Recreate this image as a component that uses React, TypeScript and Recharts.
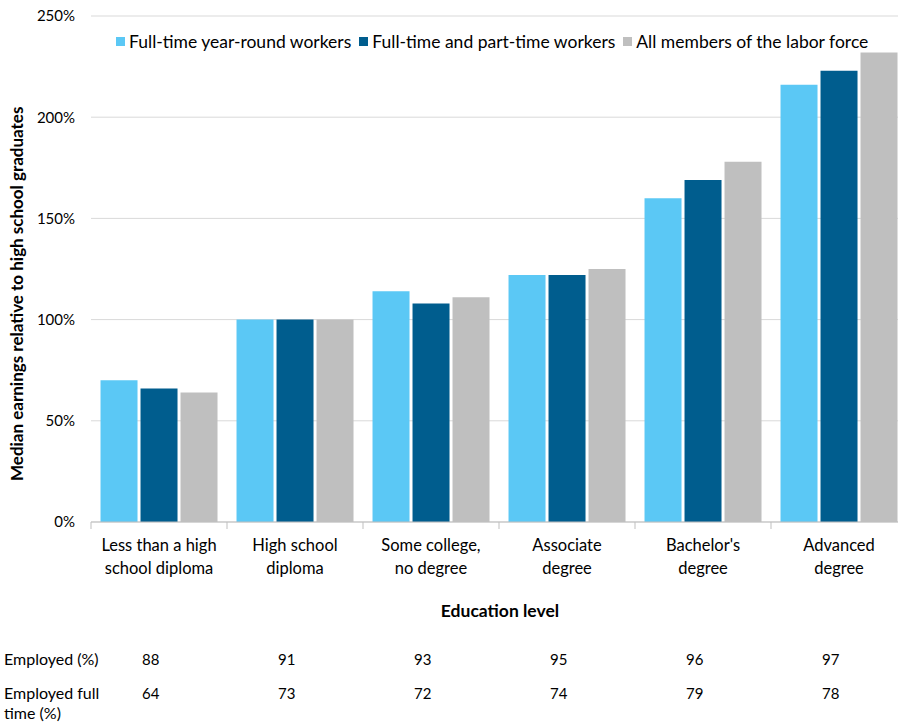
import React from "react";
import { BarChart, Bar, XAxis, YAxis, CartesianGrid } from "recharts";

const categories = [
  "Less than a high school diploma",
  "High school diploma",
  "Some college, no degree",
  "Associate degree",
  "Bachelor's degree",
  "Advanced degree",
];
const categoryLines = [
  ["Less than a high", "school diploma"],
  ["High school", "diploma"],
  ["Some college,", "no degree"],
  ["Associate", "degree"],
  ["Bachelor's", "degree"],
  ["Advanced", "degree"],
];
const fullTimeYearRound = [70, 100, 114, 122, 160, 216];
const fullAndPartTime = [66, 100, 108, 122, 169, 223];
const allLaborForce = [64, 100, 111, 125, 178, 232];
const employed = [88, 91, 93, 95, 96, 97];
const employedFullTime = [64, 73, 72, 74, 79, 78];
const yTicks = [0, 50, 100, 150, 200, 250];

const seriesNames = [
  "Full-time year-round workers",
  "Full-time and part-time workers",
  "All members of the labor force",
];
const COLORS = ["#5BC8F5", "#005D8E", "#BFBFBF"];

const data = categories.map((name, i) => ({
  name,
  a: fullTimeYearRound[i],
  b: fullAndPartTime[i],
  c: allLaborForce[i],
}));

const FONT = "Lato, 'Open Sans', sans-serif";
const BAND = 136;

const CategoryTick = (props: any) => {
  const { x, y, index } = props;
  const lines = categoryLines[index] || [];
  return (
    <g>
      <line x1={x - BAND / 2} y1={y} x2={x - BAND / 2} y2={y + 7} stroke="#BFBFBF" />
      {index === categories.length - 1 && (
        <line x1={x + BAND / 2} y1={y} x2={x + BAND / 2} y2={y + 7} stroke="#BFBFBF" />
      )}
      {lines.map((t, k) => (
        <text key={k} x={x} y={y + 29 + k * 23} textAnchor="middle" fontSize={16.5} fill="#000" fontFamily={FONT}>
          {t}
        </text>
      ))}
      <text x={x - 17} y={y + 143} fontSize={15} fill="#000" fontFamily={FONT}>
        {employed[index]}
      </text>
      <text x={x - 17} y={y + 177} fontSize={15} fill="#000" fontFamily={FONT}>
        {employedFullTime[index]}
      </text>
    </g>
  );
};

export default function App() {
  return (
    <div style={{ position: "absolute", left: 0, top: 0, width: 898, height: 725, overflow: "hidden", background: "#fff" }}>
      <BarChart
        width={910}
        height={725}
        data={data}
        margin={{ top: 16, right: 3, bottom: 3, left: 0 }}
        barCategoryGap="7%"
        barGap={3}
      >
        <CartesianGrid vertical={false} stroke="#D9D9D9" />
        <XAxis
          dataKey="name"
          height={200}
          interval={0}
          tickLine={false}
          tickSize={0}
          tickMargin={0}
          axisLine={{ stroke: "#BFBFBF" }}
          tick={<CategoryTick />}
        />
        <YAxis
          width={91}
          domain={[0, 250]}
          ticks={yTicks}
          tickFormatter={(v: number) => `${v}%`}
          axisLine={false}
          tickLine={false}
          tickSize={6}
          tickMargin={10}
          tick={{ fontSize: 15, fill: "#000", fontFamily: FONT }}
          label={{
            value: "Median earnings relative to high school graduates",
            angle: -90,
            position: "insideLeft",
            dx: 12,
            dy: 212,
            style: { fontSize: 17, fontWeight: 700, fill: "#000", fontFamily: FONT },
          }}
        />
        <Bar dataKey="a" name={seriesNames[0]} fill={COLORS[0]} isAnimationActive={false} />
        <Bar dataKey="b" name={seriesNames[1]} fill={COLORS[1]} isAnimationActive={false} />
        <Bar dataKey="c" name={seriesNames[2]} fill={COLORS[2]} isAnimationActive={false} />
      </BarChart>
      <div style={{ position: "absolute", left: 116, top: 31, display: "flex", alignItems: "center", fontFamily: FONT, fontSize: 17.5, color: "#000" }}>
        {seriesNames.map((n, i) => (
          <div key={n} style={{ display: "flex", alignItems: "center", marginRight: 8 }}>
            <span style={{ display: "inline-block", width: 9, height: 9, background: COLORS[i], marginRight: 4 }} />
            <span>{n}</span>
          </div>
        ))}
      </div>
      <div style={{ position: "absolute", left: 0, top: 600, width: 1000, textAlign: "center", fontFamily: FONT, fontSize: 17.5, fontWeight: 700 }}>
        Education level
      </div>
      <div style={{ position: "absolute", left: 4, top: 649, fontFamily: FONT, fontSize: 16, lineHeight: "20px" }}>
        Employed (%)
      </div>
      <div style={{ position: "absolute", left: 4, top: 683, fontFamily: FONT, fontSize: 16, lineHeight: "20px" }}>
        Employed full
        <br />
        time (%)
      </div>
    </div>
  );
}
